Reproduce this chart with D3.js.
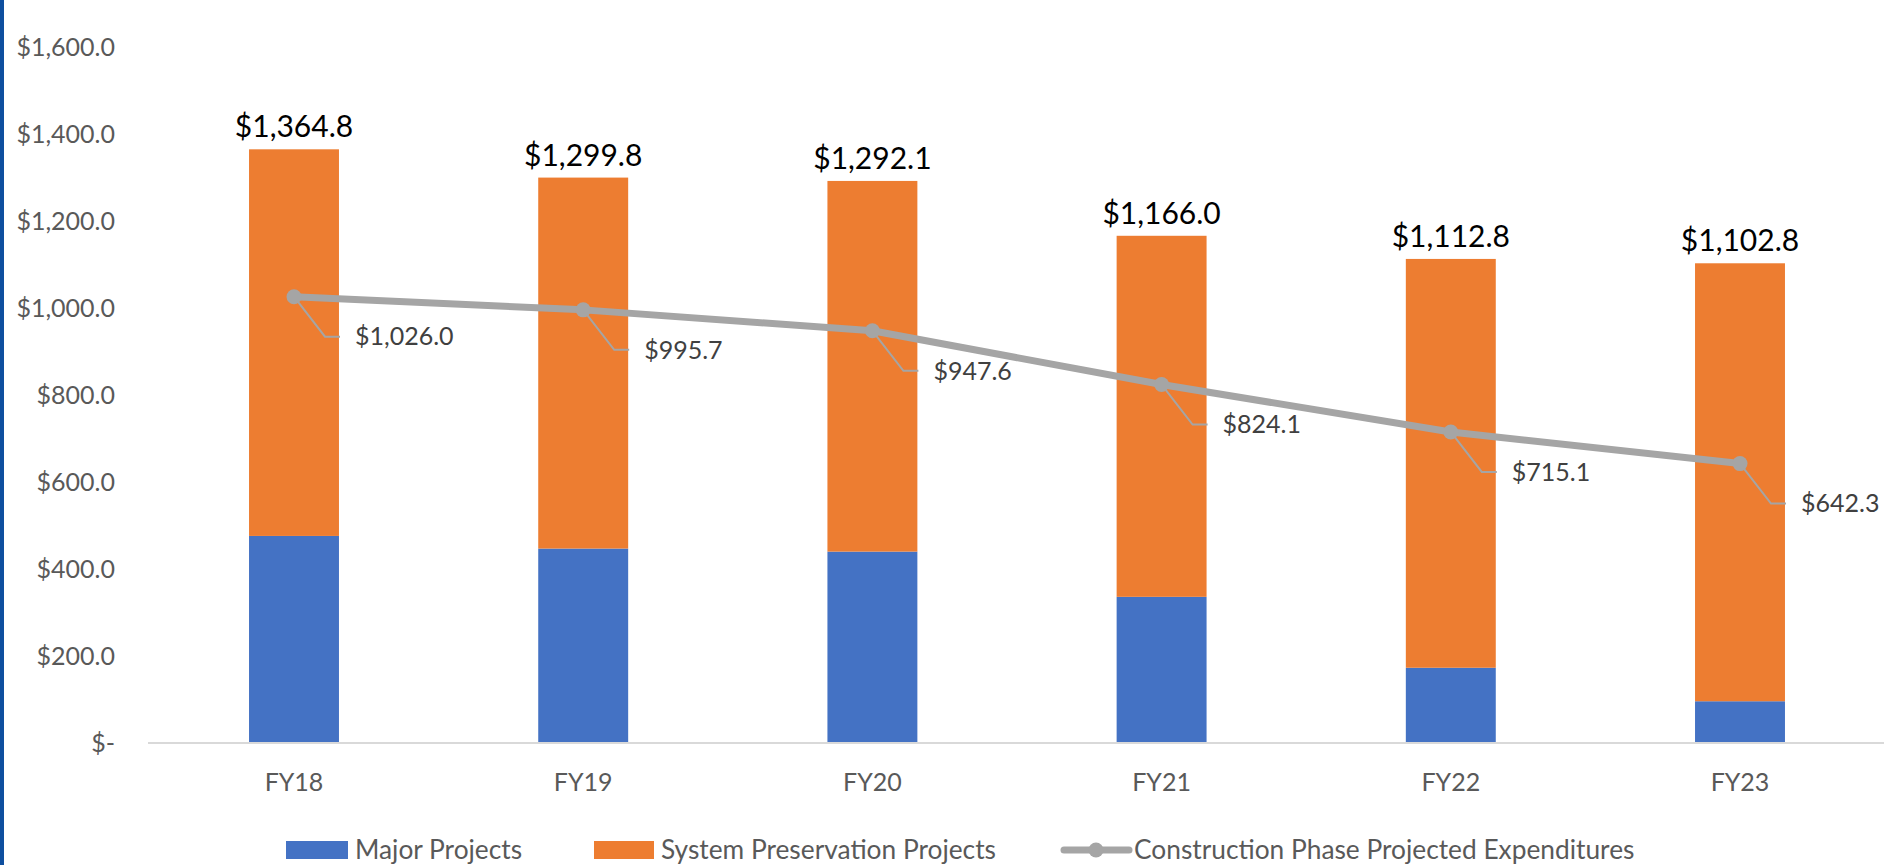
<!DOCTYPE html>
<meta charset="utf-8">
<script src="https://d3js.org/d3.v7.min.js"></script>
<style>
  body { margin: 0; background: #fff; }
  text { font-family: Lato, "Noto Sans", sans-serif; }
</style>
<div id="chart"></div>
<script>

// data ($ millions)
var years = ["FY18", "FY19", "FY20", "FY21", "FY22", "FY23"]
var totals = [1364.8, 1299.8, 1292.1, 1166.0, 1112.8, 1102.8]
var major = [476, 447, 440, 336, 173, 96]
var preservation = totals.map(function(t, i){ return +(t - major[i]).toFixed(1) })
var construction = [1026.0, 995.7, 947.6, 824.1, 715.1, 642.3]
var yTicks = [0, 200, 400, 600, 800, 1000, 1200, 1400, 1600]

var width = 1886
var height = 865

var svg = d3.select("#chart")
  .append("svg")
    .attr("width", width)
    .attr("height", height)

// blue strip on the left edge
svg.append("rect")
  .attr("x", 0).attr("y", 0)
  .attr("width", 4).attr("height", height)
  .attr("fill", "#0e4f9f")

var x = d3.scaleBand()
  .domain(years)
  .range([149.4, 1884.6])
  .paddingInner(0.689)
  .paddingOuter(0.689 / 2)

var y = d3.scaleLinear()
  .domain([0, 1600])
  .range([743, 47])

var money = d3.format(",.1f")

// y axis labels
svg.append("g")
  .selectAll("text")
  .data(yTicks)
  .enter()
  .append("text")
    .attr("x", 115)
    .attr("y", function(d){ return y(d) })
    .attr("dy", "0.35em")
    .attr("text-anchor", "end")
    .attr("fill", "#595959")
    .style("font-size", "25px")
    .text(function(d){ return d === 0 ? "$-" : "$" + money(d) })

// stacked bars
var rows = years.map(function(yr, i){
  return { year: yr, major: major[i], preservation: preservation[i] }
})
var stack = d3.stack().keys(["major", "preservation"])(rows)
var color = d3.scaleOrdinal()
  .domain(["major", "preservation"])
  .range(["#4472c4", "#ed7d31"])

svg.append("g")
  .selectAll("g")
  .data(stack)
  .enter()
  .append("g")
    .attr("fill", function(d){ return color(d.key) })
  .selectAll("rect")
  .data(function(d){ return d })
  .enter()
  .append("rect")
    .attr("x", function(d){ return x(d.data.year) })
    .attr("y", function(d){ return y(d[1]) })
    .attr("width", x.bandwidth())
    .attr("height", function(d){ return y(d[0]) - y(d[1]) })

// baseline
svg.append("line")
  .attr("x1", 148).attr("x2", 1884)
  .attr("y1", y(0)).attr("y2", y(0))
  .attr("stroke", "#d9d9d9")
  .attr("stroke-width", 2)

// x labels
svg.append("g")
  .selectAll("text")
  .data(years)
  .enter()
  .append("text")
    .attr("x", function(d){ return x(d) + x.bandwidth() / 2 })
    .attr("y", 782)
    .attr("dy", "0.35em")
    .attr("text-anchor", "middle")
    .attr("fill", "#595959")
    .style("font-size", "25px")
    .text(function(d){ return d })

// total labels above bars
svg.append("g")
  .selectAll("text")
  .data(totals)
  .enter()
  .append("text")
    .attr("x", function(d, i){ return x(years[i]) + x.bandwidth() / 2 })
    .attr("y", function(d){ return y(d) - 12 })
    .attr("text-anchor", "middle")
    .attr("fill", "#000")
    .style("font-size", "30px")
    .text(function(d){ return "$" + money(d) })

// construction line
var cx = function(i){ return x(years[i]) + x.bandwidth() / 2 }
var line = d3.line()
  .x(function(d, i){ return cx(i) })
  .y(function(d){ return y(d) })

svg.append("path")
  .datum(construction)
  .attr("d", line)
  .attr("fill", "none")
  .attr("stroke", "#a5a5a5")
  .attr("stroke-width", 7)
  .attr("stroke-linejoin", "round")

// leader lines + labels
var lab = svg.append("g")
lab.selectAll("path")
  .data(construction)
  .enter()
  .append("path")
    .attr("d", function(d, i){
      var px = cx(i), py = y(d)
      return "M" + px + "," + py + "L" + (px + 31) + "," + (py + 40) + "L" + (px + 46) + "," + (py + 40)
    })
    .attr("fill", "none")
    .attr("stroke", "#a5a5a5")
    .attr("stroke-width", 2)

svg.append("g")
  .selectAll("circle")
  .data(construction)
  .enter()
  .append("circle")
    .attr("cx", function(d, i){ return cx(i) })
    .attr("cy", function(d){ return y(d) })
    .attr("r", 7.5)
    .attr("fill", "#a5a5a5")

lab.selectAll("text")
  .data(construction)
  .enter()
  .append("text")
    .attr("x", function(d, i){ return cx(i) + 61 })
    .attr("y", function(d){ return y(d) + 40 })
    .attr("dy", "0.35em")
    .attr("fill", "#404040")
    .style("font-size", "25px")
    .text(function(d){ return "$" + money(d) })

// legend
var legend = svg.append("g")
var ly = 850
var lfs = "26.3px"
legend.append("rect").attr("x", 286).attr("y", ly - 9).attr("width", 62).attr("height", 18).attr("fill", "#4472c4")
legend.append("text").attr("x", 355).attr("y", ly).attr("dy", "0.35em").attr("fill", "#595959")
  .style("font-size", lfs).text("Major Projects")
legend.append("rect").attr("x", 594).attr("y", ly - 9).attr("width", 60).attr("height", 18).attr("fill", "#ed7d31")
legend.append("text").attr("x", 661).attr("y", ly).attr("dy", "0.35em").attr("fill", "#595959")
  .style("font-size", lfs).text("System Preservation Projects")
legend.append("line").attr("x1", 1064).attr("x2", 1129).attr("y1", ly).attr("y2", ly)
  .attr("stroke", "#a5a5a5").attr("stroke-width", 7).attr("stroke-linecap", "round")
legend.append("circle").attr("cx", 1096).attr("cy", ly).attr("r", 7.5).attr("fill", "#a5a5a5")
legend.append("text").attr("x", 1134).attr("y", ly).attr("dy", "0.35em").attr("fill", "#595959")
  .style("font-size", lfs).text("Construction Phase Projected Expenditures")

</script>
